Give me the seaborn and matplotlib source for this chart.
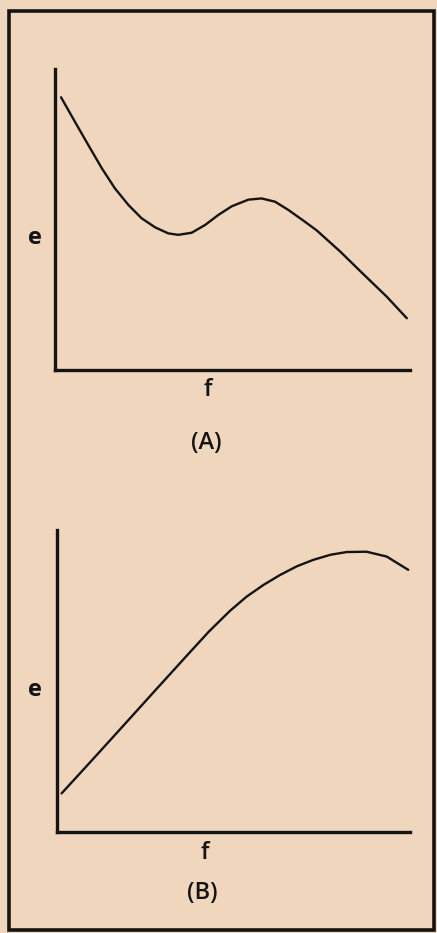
import matplotlib
matplotlib.use("Agg")
import matplotlib.pyplot as plt
import seaborn as sns
import pandas as pd
from matplotlib.patches import Rectangle

# Data (arbitrary units 0..10)
f_a = [0.17, 0.56, 0.94, 1.32, 1.69, 2.07, 2.44, 2.82, 3.19, 3.47, 3.85, 4.23,
       4.60, 4.98, 5.45, 5.82, 6.20, 6.57, 7.00, 7.37, 8.03, 8.69, 9.35, 9.91]
e_a = [9.06, 8.25, 7.47, 6.70, 6.03, 5.48, 5.04, 4.74, 4.54, 4.49, 4.56, 4.82,
       5.15, 5.44, 5.66, 5.70, 5.59, 5.32, 4.96, 4.64, 3.94, 3.18, 2.43, 1.72]

f_b = [0.13, 0.89, 1.83, 2.78, 3.72, 4.30, 4.90, 5.37, 5.85, 6.32, 6.80, 7.26,
       7.75, 8.21, 8.77, 9.34, 9.95]
e_b = [1.27, 2.24, 3.45, 4.68, 5.89, 6.63, 7.32, 7.79, 8.18, 8.51, 8.80, 9.01,
       9.18, 9.27, 9.28, 9.12, 8.68]

panel_labels = ["(A)", "(B)"]
x_label = "f"
y_label = "e"

BG = "#f0d6bc"
INK = "#141414"

sns.set_theme(style="white")
plt.rcParams['font.family'] = ['Open Sans', 'DejaVu Sans']

W, H = 437, 933
fig = plt.figure(figsize=(W / 100, H / 100), dpi=100)
fig.patch.set_facecolor(BG)

def px_axes(x0, y0, x1, y1):
    # pixel box (top-left origin) -> figure fraction
    return fig.add_axes([x0 / W, 1 - y1 / H, (x1 - x0) / W, (y1 - y0) / H])

# frame
fig.add_artist(Rectangle((8.5 / W, 1 - 930 / H), (433.5 - 8.5) / W, (930 - 11) / H,
                         transform=fig.transFigure, fill=False,
                         edgecolor=INK, linewidth=2.6))

panels = [
    (pd.DataFrame({"f": f_a, "e": e_a}), (55, 69, 410, 370), (34.5, 238), (208, 390), (206, 443)),
    (pd.DataFrame({"f": f_b, "e": e_b}), (57, 530, 410, 831.7), (34.5, 690), (205, 853), (202, 893)),
]

for i, (df, box, epos, fpos, lpos) in enumerate(panels):
    ax = px_axes(*box)
    ax.set_facecolor(BG)
    sns.lineplot(data=df, x="f", y="e", sort=False, ax=ax, color=INK,
                 linewidth=1.7, estimator=None, solid_joinstyle="round",
                 solid_capstyle="round")
    ax.set_xlim(0, 10)
    ax.set_ylim(0, 10)
    ax.set_xticks([])
    ax.set_yticks([])
    ax.set_xlabel("")
    ax.set_ylabel("")
    for s in ["top", "right"]:
        ax.spines[s].set_visible(False)
    for s in ["left", "bottom"]:
        ax.spines[s].set_color(INK)
        ax.spines[s].set_linewidth(2.4)
    fig.text(epos[0] / W, 1 - epos[1] / H, y_label, ha="center", va="center",
             fontsize=17, fontweight="bold", color=INK)
    fig.text(fpos[0] / W, 1 - fpos[1] / H, x_label, ha="center", va="center",
             fontsize=17, fontweight="semibold", color=INK)
    fig.text(lpos[0] / W, 1 - lpos[1] / H, panel_labels[i], ha="center", va="center",
             fontsize=17, fontweight="semibold", color=INK)

fig.savefig("out.png", dpi=100, facecolor=BG)
